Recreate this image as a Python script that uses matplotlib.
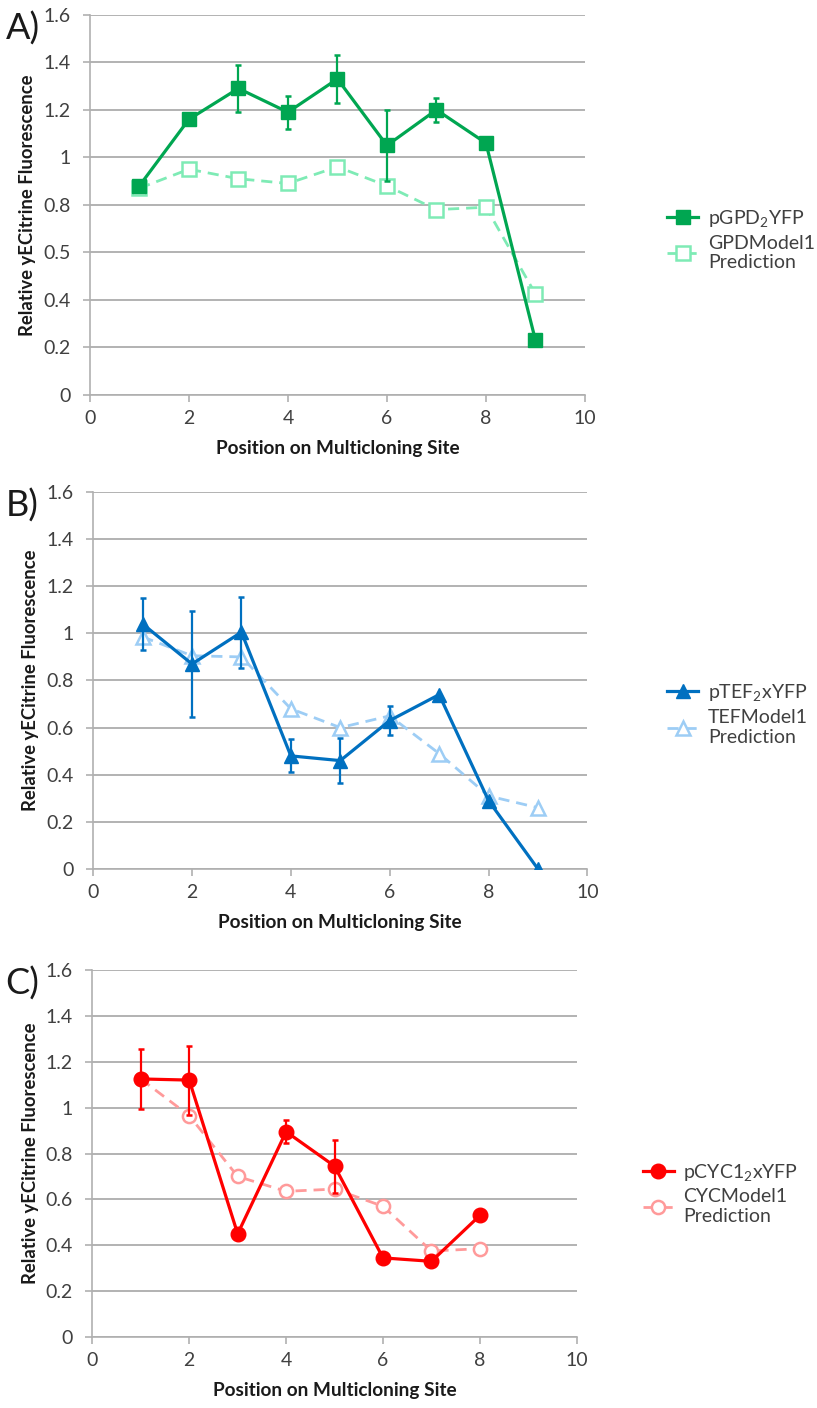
import numpy as np
import matplotlib
matplotlib.use("Agg")
import matplotlib.pyplot as plt

plt.rcParams["font.family"] = ["Lato", "DejaVu Sans"]
plt.rcParams["mathtext.fontset"] = "custom"
plt.rcParams["mathtext.rm"] = "Lato"
plt.rcParams["mathtext.it"] = "Lato"

# panel A - GPD
gpd_x = [1, 2, 3, 4, 5, 6, 7, 8, 9]
gpd_meas = [0.88, 1.16, 1.29, 1.19, 1.33, 1.05, 1.20, 1.06, 0.23]
gpd_err = [0.0, 0.0, 0.10, 0.07, 0.10, 0.15, 0.05, 0.0, 0.0]
gpd_pred = [0.87, 0.95, 0.91, 0.89, 0.96, 0.88, 0.78, 0.79, 0.425]

# panel B - TEF
tef_x = [1, 2, 3, 4, 5, 6, 7, 8, 9]
tef_meas = [1.04, 0.87, 1.005, 0.48, 0.46, 0.63, 0.74, 0.29, 0.0]
tef_err = [0.11, 0.225, 0.15, 0.07, 0.095, 0.06, 0.0, 0.0, 0.0]
tef_pred = [0.985, 0.905, 0.90, 0.68, 0.60, 0.65, 0.49, 0.31, 0.26]

# panel C - CYC1
cyc_x = [1, 2, 3, 4, 5, 6, 7, 8]
cyc_meas = [1.125, 1.12, 0.45, 0.895, 0.745, 0.345, 0.33, 0.53]
cyc_err = [0.13, 0.15, 0.0, 0.05, 0.115, 0.0, 0.0, 0.0]
cyc_pred = [1.125, 0.965, 0.70, 0.635, 0.645, 0.57, 0.375, 0.385]

yticks = [0, 0.2, 0.4, 0.6, 0.8, 1.0, 1.2, 1.4, 1.6]
ylabels_a = ["0", "0.2", "0.4", "0.5", "0.8", "1", "1.2", "1.4", "1.6"]
ylabels = ["0", "0.2", "0.4", "0.6", "0.8", "1", "1.2", "1.4", "1.6"]
xticks = [0, 2, 4, 6, 8, 10]

panels = [
    dict(rect=[0.110, 0.7195, 0.606, 0.270], letter="A)", x=gpd_x, meas=gpd_meas, err=gpd_err, pred=gpd_pred,
         dark="#00a651", light="#7eebb5", marker="s", ms=10.5,
         lab1="pGPD$_2$YFP", lab2="GPDModel1\nPrediction", yl=ylabels_a, leg=(0.807, 0.858)),
    dict(rect=[0.114, 0.3828, 0.605, 0.2678], letter="B)", x=tef_x, meas=tef_meas, err=tef_err, pred=tef_pred,
         dark="#0070c0", light="#9dcdf5", marker="^", ms=10.5,
         lab1="pTEF$_2$xYFP", lab2="TEFModel1\nPrediction", yl=ylabels, leg=(0.807, 0.521)),
    dict(rect=[0.113, 0.0504, 0.593, 0.2607], letter="C)", x=cyc_x, meas=cyc_meas, err=cyc_err, pred=cyc_pred,
         dark="#ff0000", light="#ff9a9a", marker="o", ms=10.5,
         lab1="pCYC1$_2$xYFP", lab2="CYCModel1\nPrediction", yl=ylabels, leg=(0.777, 0.1805)),
]

fig = plt.figure(figsize=(8.17, 14.08), dpi=100)

for p in panels:
    ax = fig.add_axes(p["rect"])
    eb = ax.errorbar(p["x"], p["meas"], yerr=p["err"], color=p["dark"], lw=2.3, marker=p["marker"],
                     ms=p["ms"], ecolor=p["dark"], elinewidth=1.6, capsize=2.5, capthick=1.8, zorder=3)
    pl, = ax.plot(p["x"], p["pred"], color=p["light"], lw=2, ls=(0, (4, 2.5)), marker=p["marker"],
                  ms=p["ms"] - 1, mfc="white", mec=p["light"], mew=1.8, zorder=2)
    ax.set_xlim(0, 10)
    ax.set_ylim(0, 1.6)
    ax.set_xticks(xticks)
    ax.set_yticks(yticks)
    ax.set_yticklabels(p["yl"])
    ax.yaxis.grid(True, color="#a6a6a6", lw=1.2)
    ax.set_axisbelow(True)
    for s in ["top", "right"]:
        ax.spines[s].set_visible(False)
    for s in ["left", "bottom"]:
        ax.spines[s].set_color("#b0b0b0")
        ax.spines[s].set_linewidth(1.2)
    ax.tick_params(axis="both", colors="#b0b0b0", labelcolor="#404040", labelsize=14, length=5, width=1.2)
    ax.tick_params(axis="y", pad=9)
    ax.tick_params(axis="x", pad=6)
    ax.set_xlabel("Position on Multicloning Site", fontsize=13.7, fontweight="bold", color="#1a1a1a", labelpad=9)
    ax.set_ylabel("Relative yECitrine Fluorescence", fontsize=13.3, fontweight="bold", color="#1a1a1a", labelpad=5)
    top = p["rect"][1] + p["rect"][3]
    fig.text(0.007, top - 14 / 1408, p["letter"], fontsize=26, color="#1a1a1a", ha="left", va="center")
    ax.legend([eb.lines[0], pl], [p["lab1"], p["lab2"]], loc="upper left",
              bbox_to_anchor=p["leg"], bbox_transform=fig.transFigure,
              frameon=False, fontsize=14, labelcolor="#404040", handlelength=1.6, handletextpad=0.5,
              labelspacing=0.3, borderaxespad=0)

fig.savefig("out.png", dpi=100)
